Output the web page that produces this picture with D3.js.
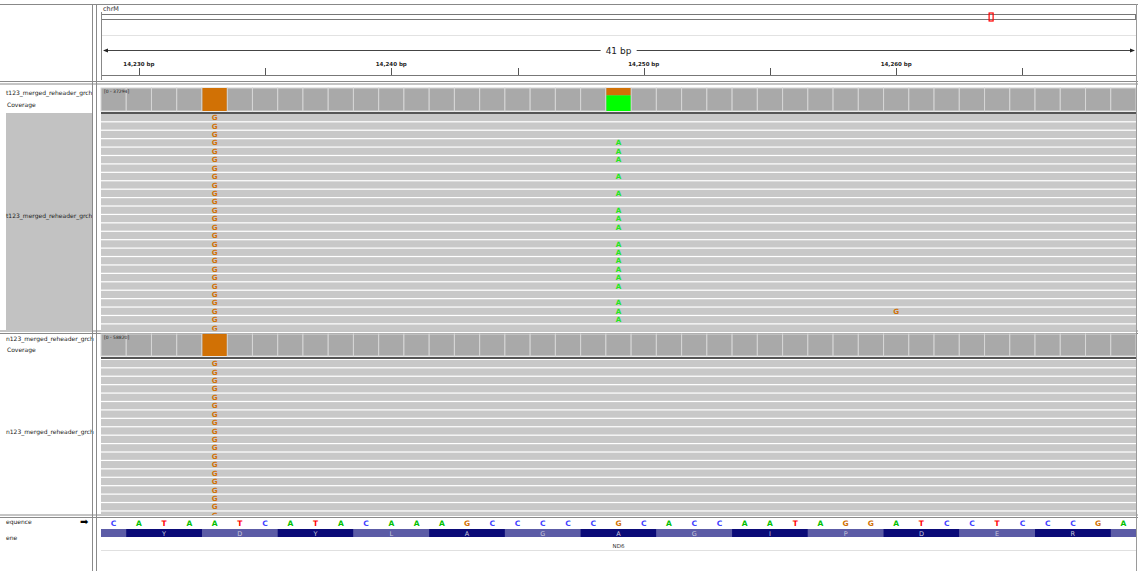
<!DOCTYPE html>
<html><head><meta charset="utf-8">
<script src="https://cdn.jsdelivr.net/npm/d3@7"></script>
<style>body{margin:0;background:#fff}svg{display:block;font-family:"DejaVu Sans",sans-serif}</style>
</head><body><svg id="c" width="1138" height="571"></svg>
<script>
// ---- data ----
const chromName = "chrM";
const chromLength = 16569;
const regionStart = 14229;
const refSeq = ["C","A","T","A","A","T","C","A","T","A","C","A","A","A","G","C","C","C","C","C","G","C","A","C","C","A","A","T","A","G","G","A","T","C","C","T","C","C","C","G","A"];
const majorTicks = [14230, 14240, 14250, 14260];
const tickLabels = ["14,230 bp", "14,240 bp", "14,250 bp", "14,260 bp"];
const minorTicks = [14235, 14245, 14255, 14265];
const trackNames = ["t123_merged_reheader_grch", "n123_merged_reheader_grch"];
const coverageRanges = ["[0 - 37294]", "[0 - 58820]"];
// coverage mismatch columns: position, base, fraction
const cov1Pos = [14233, 14249, 14249];
const cov1Base = ["G", "G", "A"];
const cov1Frac = [1.0, 0.32, 0.68];
const cov2Pos = [14233];
const cov2Base = ["G"];
const cov2Frac = [1.0];
// reads
const track1Rows = 26;
const track2Rows = 19;
const t1G_pos = 14233; // every row shows G here
const t1A_pos = 14249;
const t1A_rows = [3,4,5,7,9,11,12,13,15,16,17,18,19,20,22,23,24];
const t1Extra = [{pos:14260, row:23, base:"G"}];
const t2G_pos = 14233;
// gene translation
const codonStarts = [14230,14233,14236,14239,14242,14245,14248,14251,14254,14257,14260,14263,14266];
const aminoAcids = ["Y","D","Y","L","A","G","A","G","I","P","D","E","R"];
const geneName = "ND6";

// ---- drawing ----
const svg = d3.select("#c");
const L = 101, R = 1136;
const x = d3.scaleLinear().domain([regionStart - 0.5, regionStart + refSeq.length - 0.5]).range([L, R]);
const bw = x(1) - x(0);
const baseColor = {A:"#00c000", C:"#4040ff", G:"#d17105", T:"#ff0000"};
const mmColor = {A:"#22e622", C:"#0000ff", G:"#d17105", T:"#ff0000"};
const covColor = {A:"#00ff00", C:"#0000ff", G:"#d17105", T:"#ff0000"};

// left panel backgrounds
svg.append("rect").attr("x",6).attr("y",113).attr("width",86).attr("height",217).attr("fill","#c2c2c2");

// header
svg.append("line").attr("x1",0).attr("x2",1138).attr("y1",4.5).attr("y2",4.5).attr("stroke","#888");
svg.append("text").attr("x",103).attr("y",11).attr("font-size",6.5).attr("fill","#333").text(chromName);
const ideo = d3.scaleLinear().domain([0, chromLength]).range([L, R]);
svg.append("rect").attr("x",L+0.5).attr("y",14.5).attr("width",R-L-1).attr("height",5).attr("fill","#fff").attr("stroke","#777");
const rx0 = ideo(regionStart), rx1 = ideo(regionStart + refSeq.length);
svg.append("rect").attr("x",Math.min(rx0, (rx0+rx1)/2-2)).attr("y",13).attr("width",Math.max(4, rx1-rx0)).attr("height",8).attr("fill","none").attr("stroke","#f00").attr("stroke-width",1.2);
svg.append("line").attr("x1",L).attr("x2",R).attr("y1",35.5).attr("y2",35.5).attr("stroke","#e2e2e2");
// span arrow
svg.append("line").attr("x1",L+3).attr("x2",R-2).attr("y1",50.5).attr("y2",50.5).attr("stroke","#444");
svg.append("path").attr("d",`M${L+2},50.5 l5,-2 v4 z`).attr("fill","#222");
svg.append("path").attr("d",`M${R-1},50.5 l-5,-2 v4 z`).attr("fill","#222");
const spanT = svg.append("text").attr("x",(L+R)/2).attr("y",54).attr("text-anchor","middle").attr("font-size",9).attr("fill","#222").text(refSeq.length + " bp");
const bb = spanT.node().getBBox();
svg.append("rect").attr("x",bb.x-5).attr("y",45).attr("width",bb.width+10).attr("height",10).attr("fill","#fff");
spanT.raise();
// ruler ticks
svg.selectAll(".mt").data(majorTicks).join("text").attr("x",d=>x(d)).attr("y",65.5).attr("text-anchor","middle").attr("font-size",5.5).attr("font-weight","bold").attr("fill","#222").text((d,i)=>tickLabels[i]);
svg.selectAll(".tk").data(majorTicks.concat(minorTicks)).join("line").attr("x1",d=>Math.round(x(d))+0.5).attr("x2",d=>Math.round(x(d))+0.5).attr("y1",68).attr("y2",75).attr("stroke","#555");
svg.append("line").attr("x1",L).attr("x2",R).attr("y1",75.5).attr("y2",75.5).attr("stroke","#777");
svg.append("line").attr("x1",L+0.5).attr("x2",L+0.5).attr("y1",12).attr("y2",80).attr("stroke","#888");

// horizontal separators
[[81.5,84],[331,333.5],[515,517.5]].forEach(p=>{
  p.forEach(y=>svg.append("line").attr("x1",0).attr("x2",1138).attr("y1",y).attr("y2",y).attr("stroke","#8a8a8a"));
});

// coverage track helper
function coverage(y0, h, pos, base, frac, label) {
  const g = svg.append("g");
  const positions = refSeq.map((d,i)=>regionStart+i);
  g.selectAll("rect.cv").data(positions).join("rect")
    .attr("x",d=>x(d-0.5)).attr("y",y0).attr("width",bw).attr("height",h)
    .attr("fill","#a9a9a9").attr("stroke","#d6d6d6").attr("stroke-width",1);
  const stack = {};
  pos.forEach((p,i)=>{
    const off = stack[p] || 0;
    g.append("rect").attr("x",x(p-0.5)+0.5).attr("y",y0+off*h).attr("width",bw-1).attr("height",frac[i]*h)
      .attr("fill",covColor[base[i]]);
    stack[p] = off + frac[i];
  });
  g.append("text").attr("x",L+3).attr("y",y0+5).attr("font-size",4.5).attr("fill","#222").text(label);
  g.append("rect").attr("x",L).attr("y",y0+h+1).attr("width",R-L).attr("height",2).attr("fill","#555");
}
coverage(88, 23, cov1Pos, cov1Base, cov1Frac, coverageRanges[0]);
coverage(334, 22, cov2Pos, cov2Base, cov2Frac, coverageRanges[1]);

// reads helper
function reads(y0, nRows, clipBottom) {
  const y = d3.scaleLinear().domain([0,1]).range([y0, y0+8.42]);
  const g = svg.append("g");
  const rows = d3.range(nRows);
  g.selectAll("rect").data(rows).join("rect")
    .attr("x",L).attr("y",d=>y(d)).attr("width",R-L)
    .attr("height",d=>Math.max(0, Math.min(7.2, clipBottom - y(d))))
    .attr("fill","#c8c8c8");
  return {g, y};
}
function letter(g, px, py, b, clip) {
  g.append("text").attr("x",x(px)).attr("y",py+2.8).attr("text-anchor","middle").attr("font-size",7.2).attr("font-weight","bold")
    .attr("fill",mmColor[b]).attr("clip-path",clip||null).text(b);
}
svg.append("clipPath").attr("id","clip1").append("rect").attr("x",L).attr("y",114).attr("width",R-L).attr("height",216.5);
svg.append("clipPath").attr("id","clip2").append("rect").attr("x",L).attr("y",360).attr("width",R-L).attr("height",155);
const r1 = reads(114, track1Rows, 330.5);
d3.range(track1Rows).forEach(i=>letter(r1.g, t1G_pos, r1.y(i)+3.4, "G", "url(#clip1)"));
t1A_rows.forEach(i=>letter(r1.g, t1A_pos, r1.y(i)+3.4, "A", "url(#clip1)"));
t1Extra.forEach(e=>letter(r1.g, e.pos, r1.y(e.row)+3.4, e.base, "url(#clip1)"));
const r2 = reads(360, track2Rows, 515);
d3.range(track2Rows).forEach(i=>letter(r2.g, t2G_pos, r2.y(i)+3.4, "G", "url(#clip2)"));

// sequence track
svg.selectAll(".sq").data(refSeq).join("text").attr("x",(d,i)=>x(regionStart+i)).attr("y",525.5)
  .attr("text-anchor","middle").attr("font-size",7.5).attr("font-weight","bold").attr("fill",d=>baseColor[d]).text(d=>d);
// translation
svg.append("rect").attr("x",L).attr("y",529).attr("width",R-L).attr("height",8).attr("fill","#5c5ca6");
svg.selectAll(".cd").data(codonStarts).join("rect").attr("x",d=>x(d-0.5)).attr("y",529).attr("width",3*bw).attr("height",8)
  .attr("fill",(d,i)=>i%2===0?"#0b0b78":"#5c5ca6");
svg.selectAll(".aa").data(aminoAcids).join("text").attr("x",(d,i)=>x(codonStarts[i]+1)).attr("y",535.5)
  .attr("text-anchor","middle").attr("font-size",6.5).attr("fill","#c8c8dc").text(d=>d);
svg.append("text").attr("x",x(regionStart+20)).attr("y",548).attr("text-anchor","middle").attr("font-size",5.5).attr("fill","#333").text(geneName);
svg.append("line").attr("x1",L).attr("x2",R).attr("y1",550.5).attr("y2",550.5).attr("stroke","#e0e0e0");

// left panel labels
const lab = svg.append("g").attr("font-size",6).attr("fill","#222");
lab.append("text").attr("x",6).attr("y",95).text(trackNames[0]);
lab.append("text").attr("x",7).attr("y",106.5).text("Coverage");
lab.append("text").attr("x",6).attr("y",218).text(trackNames[0]);
lab.append("text").attr("x",6).attr("y",341).text(trackNames[1]);
lab.append("text").attr("x",7).attr("y",352).text("Coverage");
lab.append("text").attr("x",6).attr("y",434).text(trackNames[1]);
lab.append("text").attr("x",6).attr("y",524).text("equence");
lab.append("text").attr("x",6).attr("y",540).text("ene");
svg.append("text").attr("x",80).attr("y",524.5).attr("font-size",10).attr("fill","#000").text("➡");

// vertical dividers
[92.5, 96.5].forEach(v=>svg.append("line").attr("x1",v).attr("x2",v).attr("y1",4).attr("y2",571).attr("stroke","#8a8a8a"));
svg.append("line").attr("x1",R+0.5).attr("x2",R+0.5).attr("y1",4).attr("y2",571).attr("stroke","#9a9a9a");
</script></body></html>
